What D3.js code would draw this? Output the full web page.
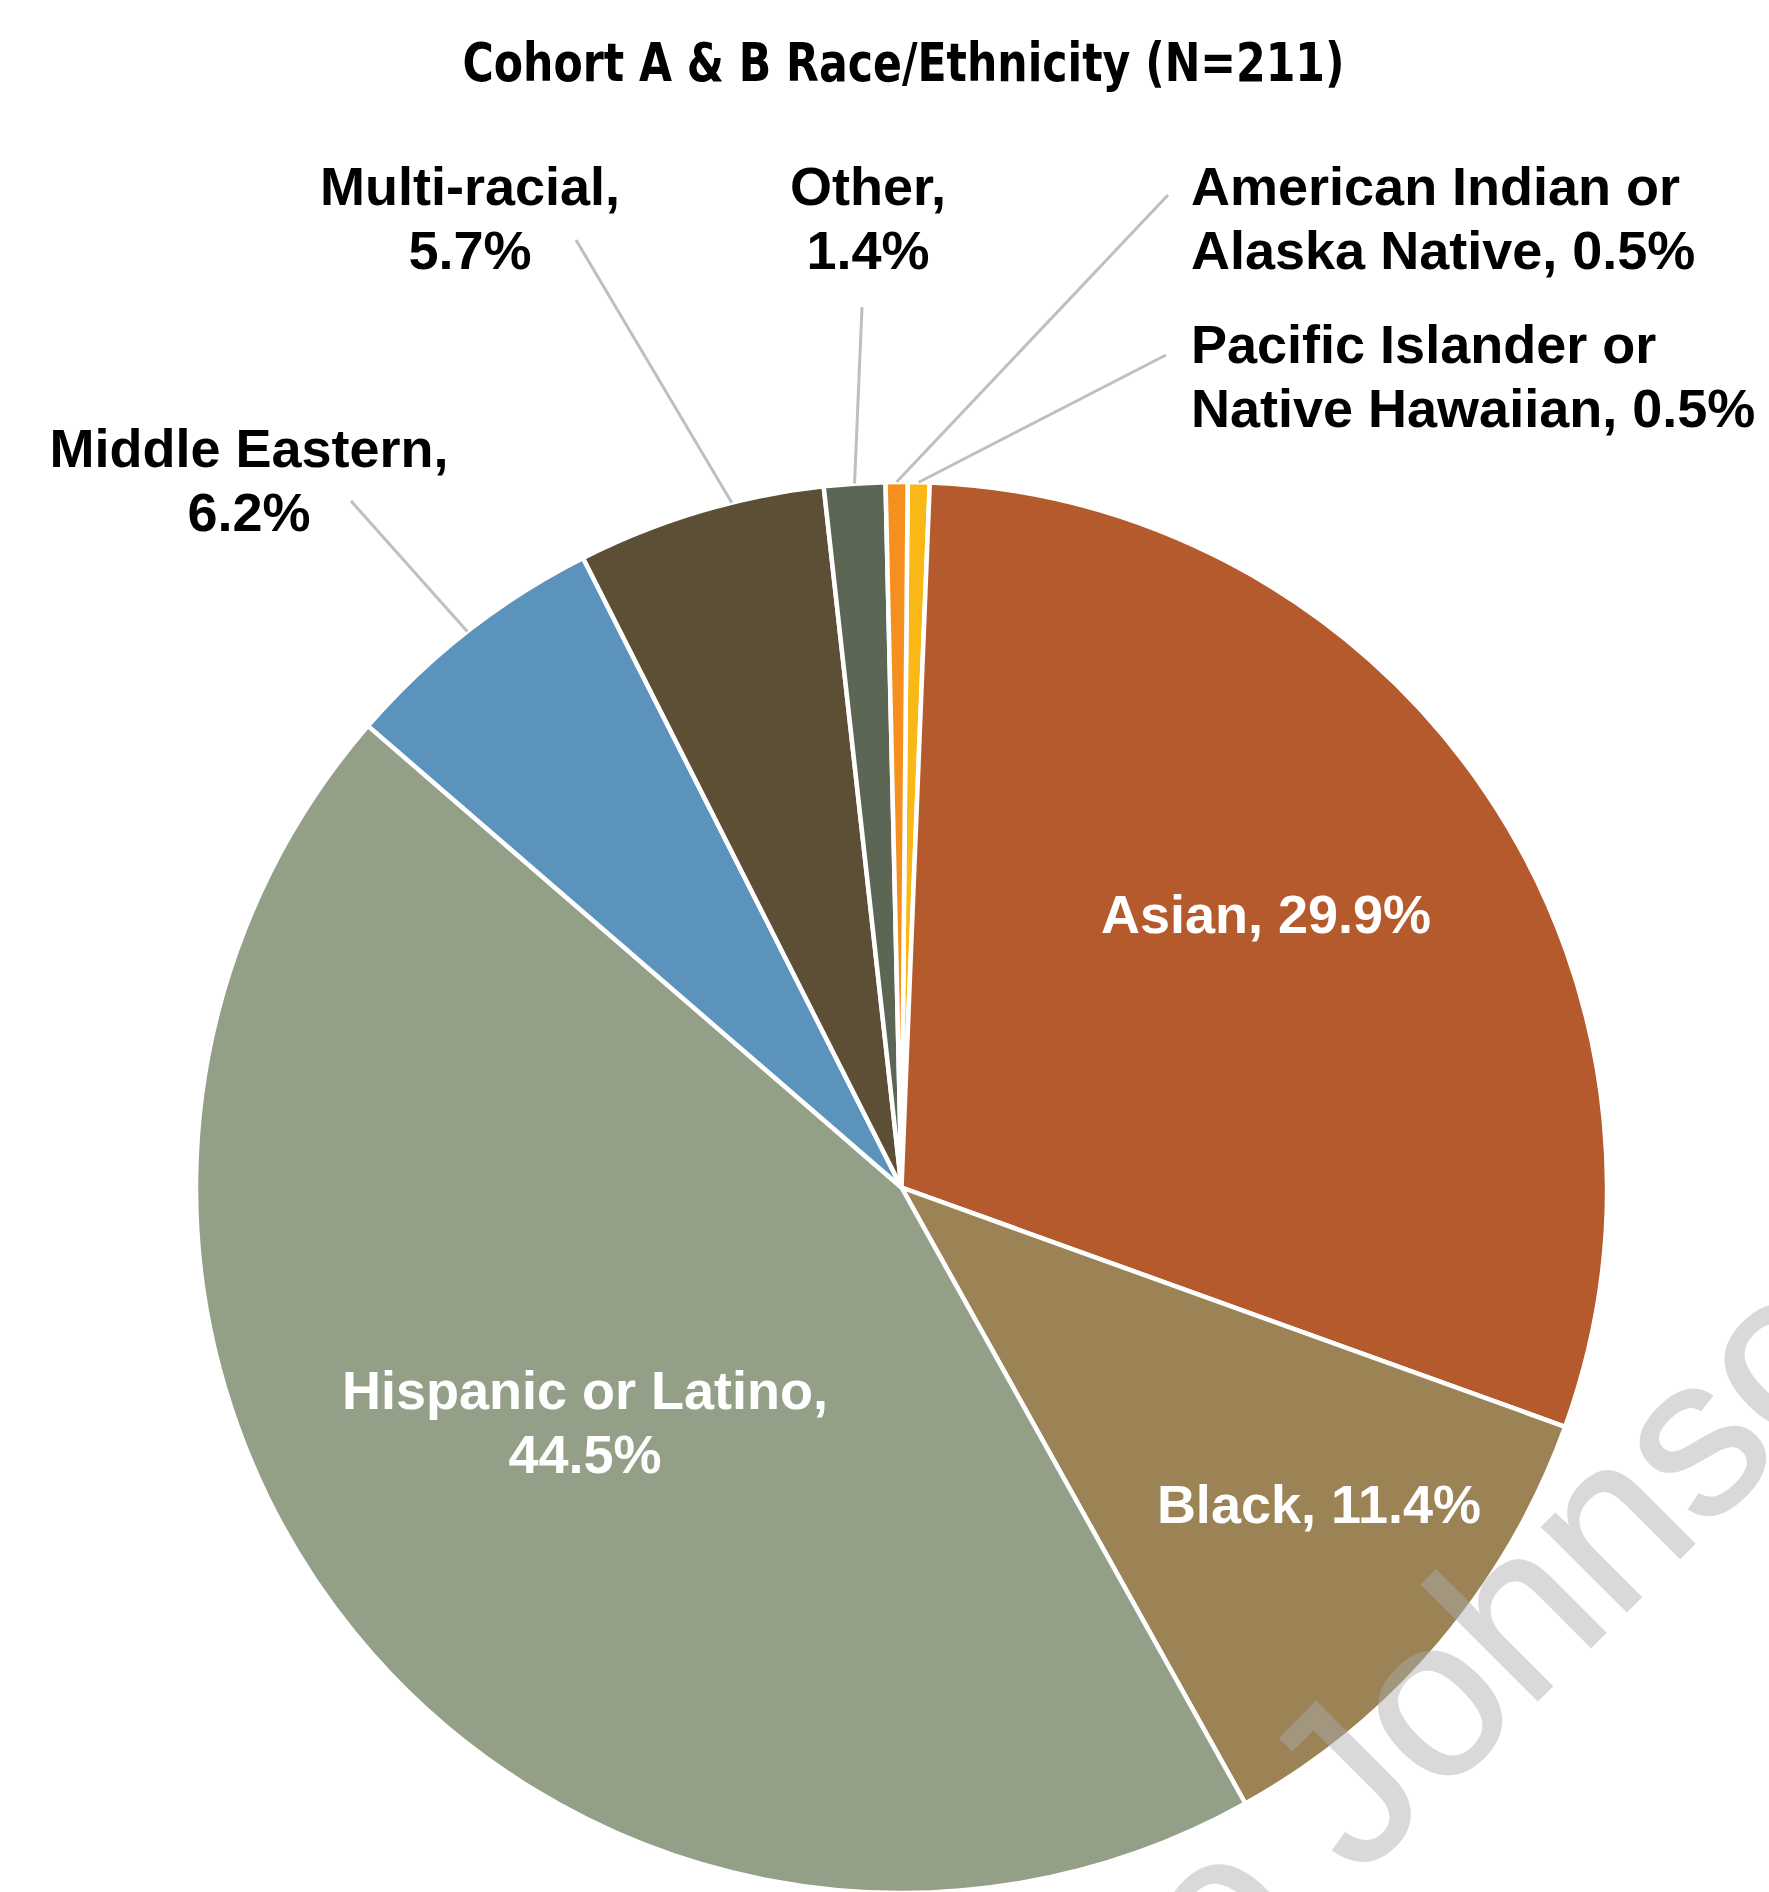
<!DOCTYPE html>
<html>
<head>
<meta charset="utf-8">
<script src="https://cdn.jsdelivr.net/npm/d3@7"></script>
<style>
  html, body { margin: 0; padding: 0; background: #fff; }
  svg { display: block; }
</style>
</head>
<body>
<div id="chart"></div>
<script>
// Data, in the order Excel draws the slices (clockwise from 12 o'clock)
const categories = [
    "Pacific Islander or Native Hawaiian",
    "Asian",
    "Black",
    "Hispanic or Latino",
    "Middle Eastern",
    "Multi-racial",
    "Other",
    "American Indian or Alaska Native"
];
const percents = [0.5, 29.9, 11.4, 44.5, 6.2, 5.7, 1.4, 0.5];
const colors = ["#F9B815", "#B55A2C", "#9B8356", "#949F87", "#5C93BC", "#5C4F35", "#5B6655", "#F5901E"];
const title = "Cohort A & B Race/Ethnicity (N=211)";

// Label placement (page pixels); words = words on the first line
const labelLayout = {
    "Pacific Islander or Native Hawaiian": { x: 1191, y: 363, anchor: "start", words: 3, inside: false, from: [1166, 355] },
    "Asian":               { x: 1266, y: 933, anchor: "middle", words: 99, inside: true },
    "Black":               { x: 1319, y: 1523, anchor: "middle", words: 99, inside: true },
    "Hispanic or Latino":  { x: 585, y: 1409, anchor: "middle", words: 3, inside: true },
    "Middle Eastern":      { x: 249, y: 467, anchor: "middle", words: 2, inside: false, from: [351, 501] },
    "Multi-racial":        { x: 470, y: 205, anchor: "middle", words: 1, inside: false, from: [576, 240], attach: 0.63 },
    "Other":               { x: 868, y: 205, anchor: "middle", words: 1, inside: false, from: [862, 307] },
    "American Indian or Alaska Native": { x: 1191, y: 205, anchor: "start", words: 3, inside: false, from: [1168, 195] }
};

const W = 1769, H = 1892;
const cx = 901.5, cy = 1187.5, radius = 705.5;
const rotation = 0.5 * Math.PI / 180;
const lineHeight = 63.5;
const fmt = d3.format(".1f");

const svg = d3.select("#chart").append("svg")
    .attr("width", W)
    .attr("height", H);

svg.append("rect").attr("width", W).attr("height", H).attr("fill", "#fff");

svg.append("text")
    .attr("x", 903.5)
    .attr("y", 81)
    .attr("text-anchor", "middle")
    .attr("font-family", "'Liberation Sans Narrow', 'DejaVu Sans Condensed', 'Liberation Sans', sans-serif")
    .attr("font-weight", "bold")
    .attr("font-size", 53.5)
    .attr("textLength", 882)
    .attr("lengthAdjust", "spacingAndGlyphs")
    .attr("fill", "#000")
    .text(title);

const data = categories.map((name, i) => ({ name, value: percents[i], color: colors[i] }));

const pie = d3.pie()
    .sort(null)
    .value(d => d.value)
    .startAngle(rotation)
    .endAngle(rotation + 2 * Math.PI);

const arcs = pie(data);
const arc = d3.arc().innerRadius(0).outerRadius(radius);

const g = svg.append("g").attr("transform", `translate(${cx},${cy})`);

g.selectAll("path.slice")
    .data(arcs)
    .enter()
    .append("path")
    .attr("class", "slice")
    .attr("d", arc)
    .attr("fill", d => d.data.color)
    .attr("stroke", "#fff")
    .attr("stroke-width", 4.5)
    .attr("stroke-linejoin", "round");

// Leader lines from outside labels to the slice edge
function edgePoint(d) {
    const f = labelLayout[d.data.name].attach ?? 0.5;
    const a = d.startAngle + (d.endAngle - d.startAngle) * f;
    return [cx + radius * Math.sin(a), cy - radius * Math.cos(a)];
}

const leaders = arcs.filter(d => labelLayout[d.data.name].from);
svg.selectAll("line.leader")
    .data(leaders)
    .enter()
    .append("line")
    .attr("class", "leader")
    .attr("x1", d => labelLayout[d.data.name].from[0])
    .attr("y1", d => labelLayout[d.data.name].from[1])
    .attr("x2", d => edgePoint(d)[0])
    .attr("y2", d => edgePoint(d)[1])
    .attr("stroke", "#BFBFBF")
    .attr("stroke-width", 3);

// Data labels
const labels = svg.selectAll("text.label")
    .data(arcs)
    .enter()
    .append("text")
    .attr("class", "label")
    .attr("font-family", "'Liberation Sans', Arial, Helvetica, sans-serif")
    .attr("font-weight", "bold")
    .attr("font-size", 54)
    .attr("fill", d => labelLayout[d.data.name].inside ? "#fff" : "#000")
    .attr("text-anchor", d => labelLayout[d.data.name].anchor);

labels.each(function (d) {
    const lay = labelLayout[d.data.name];
    const words = `${d.data.name}, ${fmt(d.data.value)}%`.split(" ");
    const lines = [words.slice(0, lay.words).join(" ")];
    if (words.length > lay.words) lines.push(words.slice(lay.words).join(" "));
    d3.select(this).selectAll("tspan")
        .data(lines)
        .enter()
        .append("tspan")
        .attr("x", lay.x)
        .attr("y", (t, i) => lay.y + i * lineHeight)
        .text(t => t);
});

// Watermark across the lower right (runs off the page like the original)
const wm = svg.append("g")
    .attr("transform", "translate(1358,1880) rotate(-45)")
    .attr("font-family", "'Liberation Sans', Arial, sans-serif")
    .attr("font-size", 226)
    .attr("fill", "rgb(174,174,174)")
    .attr("stroke", "rgb(174,174,174)")
    .attr("stroke-width", 2);
wm.append("text").attr("x", 0).attr("y", 0).attr("opacity", 0.46).text("Johnson");
wm.append("text").attr("x", -62).attr("y", 0).attr("opacity", 0.46).attr("text-anchor", "end").text("e");
</script>
</body>
</html>
